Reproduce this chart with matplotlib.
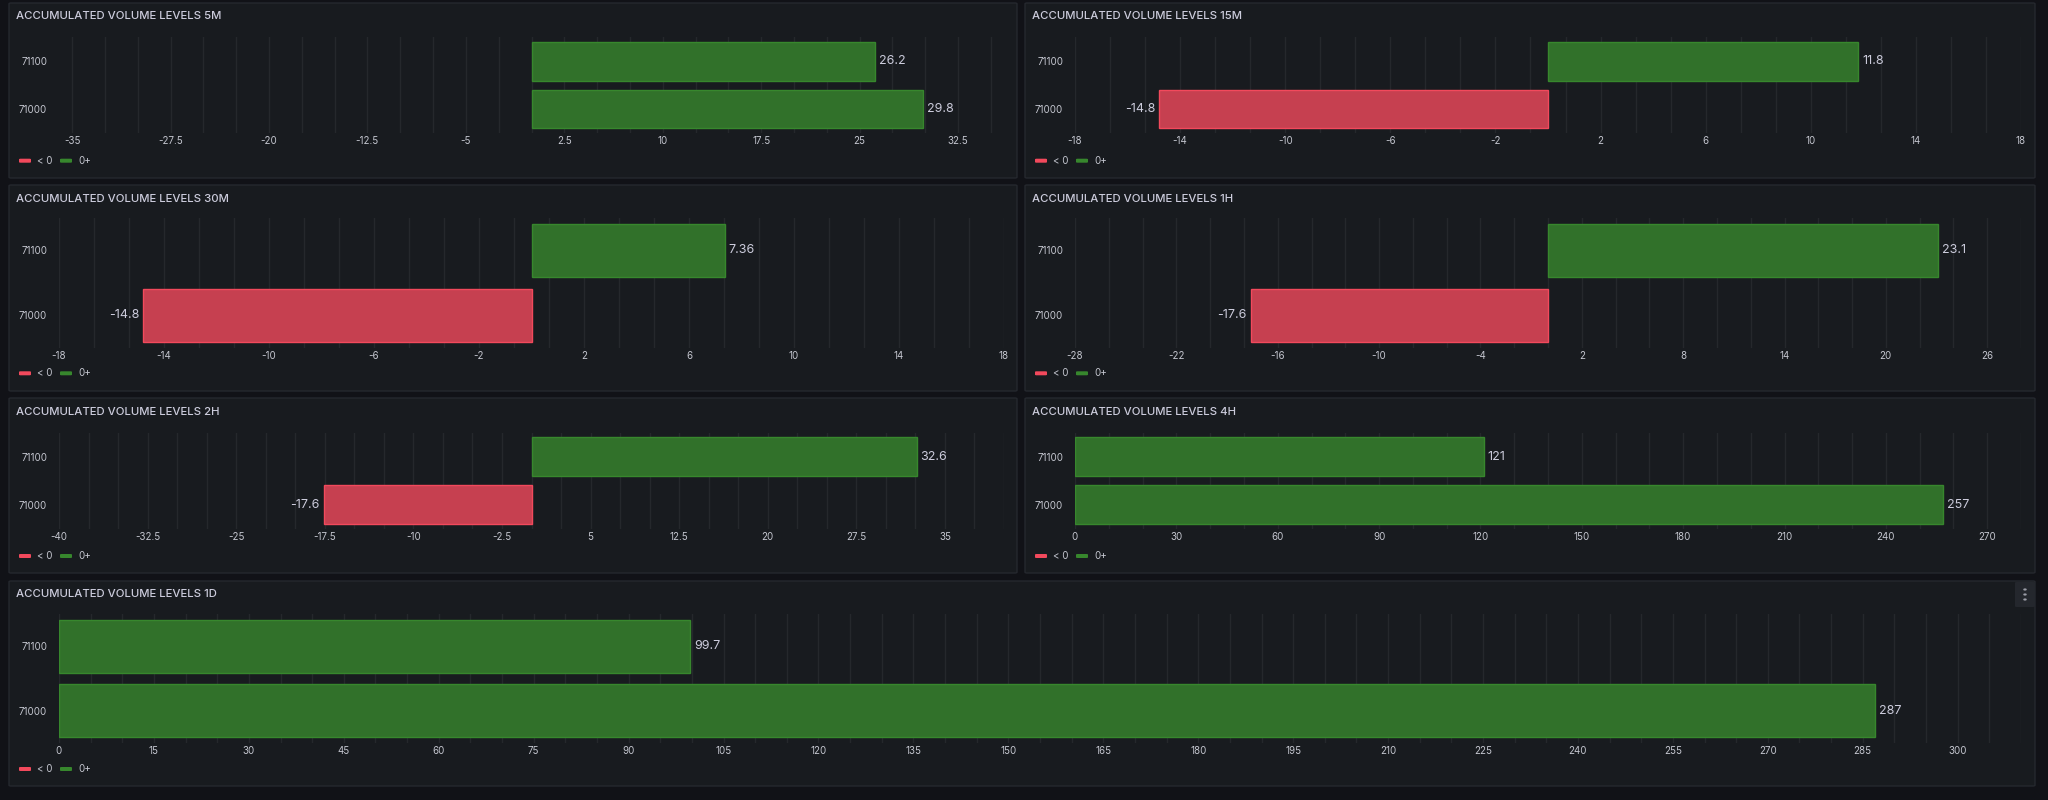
import numpy as np
import matplotlib
matplotlib.use("Agg")
import matplotlib.pyplot as plt
from matplotlib.patches import FancyBboxPatch
from matplotlib.ticker import FuncFormatter, FixedLocator

plt.rcParams['font.family'] = ['Inter', 'DejaVu Sans']
plt.rcParams['axes.unicode_minus'] = False

# ---------------- data ----------------
levels = ["71100", "71000"]
titles = ["ACCUMULATED VOLUME LEVELS 5M", "ACCUMULATED VOLUME LEVELS 15M",
          "ACCUMULATED VOLUME LEVELS 30M", "ACCUMULATED VOLUME LEVELS 1H",
          "ACCUMULATED VOLUME LEVELS 2H", "ACCUMULATED VOLUME LEVELS 4H",
          "ACCUMULATED VOLUME LEVELS 1D"]
vals_5m = [26.2, 29.8]
vals_15m = [11.8, -14.8]
vals_30m = [7.36, -14.8]
vals_1h = [23.1, -17.6]
vals_2h = [32.6, -17.6]
vals_4h = [121, 257]
vals_1d = [99.7, 287]

ticks_5m = [-35, -27.5, -20, -12.5, -5, 2.5, 10, 17.5, 25, 32.5]
ticks_15m = [-18, -14, -10, -6, -2, 2, 6, 10, 14, 18]
ticks_30m = [-18, -14, -10, -6, -2, 2, 6, 10, 14, 18]
ticks_1h = [-28, -22, -16, -10, -4, 2, 8, 14, 20, 26]
ticks_2h = [-40, -32.5, -25, -17.5, -10, -2.5, 5, 12.5, 20, 27.5, 35]
ticks_4h = [0, 30, 60, 90, 120, 150, 180, 210, 240, 270]
ticks_1d = [0, 15, 30, 45, 60, 75, 90, 105, 120, 135, 150, 165, 180, 195,
            210, 225, 240, 255, 270, 285, 300]

legend_labels = ["< 0", "0+"]

# ---------------- style ----------------
W, H = 2048, 800
BG = "#111217"
PANEL = "#181b1f"
BORDER = "#25282e"
TXT = "#ccccdc"
TICK = "#c4c6cf"
GREEN_FILL = "#31712a"
GREEN_LINE = "#37872d"
RED_FILL = "#c64050"
RED_LINE = "#f2495c"

fig = plt.figure(figsize=(W / 100, H / 100), dpi=100, facecolor=BG)


def fx(x):
    return x / W


def fy(y):
    return 1 - y / H


def panel(x0, y0, x1, y1):
    p = FancyBboxPatch((fx(x0), fy(y1)), fx(x1) - fx(x0), fy(y0) - fy(y1),
                       boxstyle="round,pad=0,rounding_size=0.001",
                       transform=fig.transFigure, facecolor=PANEL,
                       edgecolor=BORDER, linewidth=1, zorder=0)
    fig.add_artist(p)


# panel geometry: (panel box, plot area, legend y, title y)
rows = [
    dict(py=(3, 178), ay=(37.3, 132.9), ty=16, ly=160.7),
    dict(py=(185, 391), ay=(217.8, 347.8), ty=199, ly=373.3),
    dict(py=(398, 573), ay=(432.7, 528.7), ty=411.7, ly=556),
    dict(py=(581, 786), ay=(614, 743), ty=594, ly=769),
]
cols = {"L": (9, 1017, 59, 1004), "R": (1025, 2035, 1075, 2021),
        "F": (9, 2035, 59, 2021)}

specs = [
    (0, "L", vals_5m, ticks_5m, (-36, 36)),
    (0, "R", vals_15m, ticks_15m, (-18, 18)),
    (1, "L", vals_30m, ticks_30m, (-18, 18)),
    (1, "R", vals_1h, ticks_1h, (-28, 28)),
    (2, "L", vals_2h, ticks_2h, (-40, 40)),
    (2, "R", vals_4h, ticks_4h, (0, 280)),
    (3, "F", vals_1d, ticks_1d, (0, 310)),
]

fmt = FuncFormatter(lambda v, p: f"{v:g}")

for k, (r, c, vals, ticks, lim) in enumerate(specs):
    row = rows[r]
    px0, px1, ax0, ax1 = cols[c]
    panel(px0, row["py"][0], px1, row["py"][1])
    fig.text(fx(px0 + 7), fy(row["ty"]), titles[k], color=TXT, fontsize=8.2,
             fontweight='medium', va='center', ha='left')

    ax = fig.add_axes([fx(ax0), fy(row["ay"][1]), fx(ax1) - fx(ax0),
                       fy(row["ay"][0]) - fy(row["ay"][1])])
    ax.set_facecolor("none")
    for s in ax.spines.values():
        s.set_visible(False)
    ax.set_xlim(*lim)
    ax.set_ylim(1.5, -0.5)

    step = ticks[1] - ticks[0]
    minor = np.arange(ticks[0] - 3 * step, lim[1] + 1e-9, step / 3)
    minor = minor[(minor >= lim[0] - 1e-9) & (minor <= lim[1] + 1e-9)]
    ax.xaxis.set_major_locator(FixedLocator(ticks))
    ax.xaxis.set_minor_locator(FixedLocator(minor))
    ax.xaxis.set_major_formatter(fmt)
    ax.grid(True, axis='x', which='both', color='#ffffff', alpha=0.06,
            linewidth=1)
    ax.set_axisbelow(True)
    ax.tick_params(axis='x', which='both', length=0, pad=2.5, labelsize=7,
                   labelcolor=TICK)
    ax.set_yticks([0, 1])
    ax.set_yticklabels(levels)
    ax.tick_params(axis='y', length=0, pad=8.5, labelsize=7, labelcolor=TICK)

    fills = [GREEN_FILL if v >= 0 else RED_FILL for v in vals]
    lines = [GREEN_LINE if v >= 0 else RED_LINE for v in vals]
    ax.barh([0, 1], vals, height=0.815, color=fills, edgecolor=lines,
            linewidth=1, zorder=2)
    for i, v in enumerate(vals):
        ax.annotate(f"{v:g}", xy=(v, i), xytext=(4 if v >= 0 else -4, 0),
                    textcoords='offset pixels', ha='left' if v >= 0 else 'right',
                    va='center', color=TXT, fontsize=9, zorder=3)

    # legend
    ly = row["ly"]
    lx = px0
    for (d0, d1, t0, lab, col) in [(10, 22, 28, legend_labels[0], RED_LINE),
                                   (51, 63, 69, legend_labels[1], GREEN_LINE)]:
        dash = FancyBboxPatch((fx(lx + d0), fy(ly + 2)), fx(d1 - d0), 4 / H,
                              boxstyle="round,pad=0,rounding_size=0.0008",
                              transform=fig.transFigure, facecolor=col,
                              edgecolor='none')
        fig.add_artist(dash)
        fig.text(fx(lx + t0), fy(ly), lab, color=TICK, fontsize=7,
                 va='center', ha='left')

# menu icon on last panel
mb = FancyBboxPatch((fx(2015), fy(607)), fx(20), 25 / H,
                    boxstyle="round,pad=0,rounding_size=0.001",
                    transform=fig.transFigure, facecolor="#24272d",
                    edgecolor='none')
fig.add_artist(mb)
for yy in (589.5, 594.5, 599.5):
    fig.add_artist(plt.Circle((fx(2025), fy(yy)), 0.0005,
                              transform=fig.transFigure, color="#9a9ca6"))

fig.savefig("out.png", dpi=100, facecolor=BG)
